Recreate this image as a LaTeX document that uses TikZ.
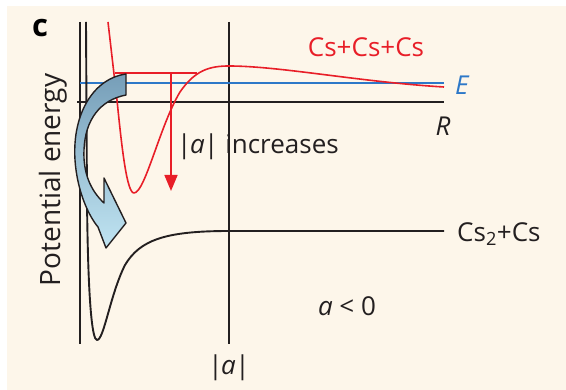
\documentclass[tikz,border=0pt]{standalone}
\usepackage{fontspec}
\setmainfont{Open Sans}
\usepackage{xcolor}
\definecolor{cream}{RGB}{253, 246, 234}
\definecolor{ink}{RGB}{35, 31, 32}
\definecolor{cured}{RGB}{232, 30, 40}
\definecolor{cublue}{RGB}{45, 120, 200}
\definecolor{arrowtop}{RGB}{118, 158, 184}
\definecolor{arrowbot}{RGB}{192, 228, 242}
\usetikzlibrary{arrows.meta}
\newcommand{\absa}{|\kern-1.5pt\textit{a}\kern-0.5pt|}

\begin{document}
\begin{tikzpicture}[x=1pt, y=-1pt, >=Stealth,
    axis/.style={ink, line width=2.2pt},
    lbl/.style={inner sep=0pt, font=\fontsize{26}{30}\selectfont},
    curve/.style={line width=1.6pt, line join=round}]
    \useasboundingbox (0,0) rectangle (566,390);
    \fill[cream] (7,6) rectangle (566,390);

    % Panel letter
    \node[lbl, font=\fontsize{31}{34}\selectfont\bfseries] (panel) at (40,28) {c};

    % Axes
    \coordinate (O) at (80,102);
    \draw[axis] (80,22) -- (80,344);
    \draw[axis] (77,102) -- (444,102) coordinate (Rend);
    \node[lbl, ink] (R) at (443,126) {\textit{R}};
    \node[lbl, ink, rotate=90, font=\fontsize{28}{32}\selectfont] (ylab) at (53,180) {Potential energy};

    % Scattering length |a|
    \draw[axis] (229,22) -- (229,344) coordinate (abot);
    \node[lbl, ink] (alab) at (229,368) {\absa};

    % Energy E
    \draw[cublue, line width=2pt] (80,83) -- (444,83) coordinate (Eend);
    \node[lbl, cublue, anchor=west] (E) at (455,85) {\textit{E}};

    % Cs2+Cs potential
    \draw[curve, ink, line width=1.9pt] (86,22) -- (87,200)
        .. controls (88,300) and (92,340) .. (97,340)
        .. controls (104,340) and (110,295) .. (125,265)
        .. controls (140,240) and (165,231) .. (229,231) -- (444,231) coordinate (Cend);
    \node[lbl, ink, anchor=west] (dimer) at (457,234) {Cs\textsubscript{2}+Cs};

    % Cs+Cs+Cs potential
    \draw[curve, cured] (108,22) -- (117,100)
        .. controls (122,150) and (127,193) .. (134,193)
        .. controls (145,193) and (160,125) .. (180,92)
        .. controls (195,70) and (210,66) .. (229,66)
        .. controls (280,66) and (360,82) .. (444,87);
    \node[lbl, cured] (trimer) at (366,47) {Cs+Cs+Cs};

    % Bound level and shift
    \coordinate (lvlL) at (115,73);
    \coordinate (lvlR) at (197,73);
    \coordinate (shift) at (171,73);
    \coordinate (shiftend) at (171,191);
    \draw[cured, line width=1.6pt] (lvlL) -- (lvlR);
    \draw[cured, line width=1.6pt, -{Triangle[width=13pt,length=16pt]}] (shift) -- (shiftend);
    \node[lbl, ink, anchor=west] (incr) at (177,147) {\absa\ increases};

    % Curved arrow
    \shade[top color=arrowtop, bottom color=arrowbot, draw=ink, line width=1.4pt, line join=round]
        (126,74) .. controls (95,78) and (72,112) .. (75,160)
        .. controls (77,190) and (88,215) .. (98,227)
        -- (106,248) -- (126,223) -- (104,178) -- (104,203)
        .. controls (90,190) and (83,172) .. (84,150)
        .. controls (85,120) and (100,100) .. (126,95) -- cycle;

    % Sign of a
    \node[lbl, ink] (sign) at (347,306) {\textit{a} < 0};
\end{tikzpicture}
\end{document}
